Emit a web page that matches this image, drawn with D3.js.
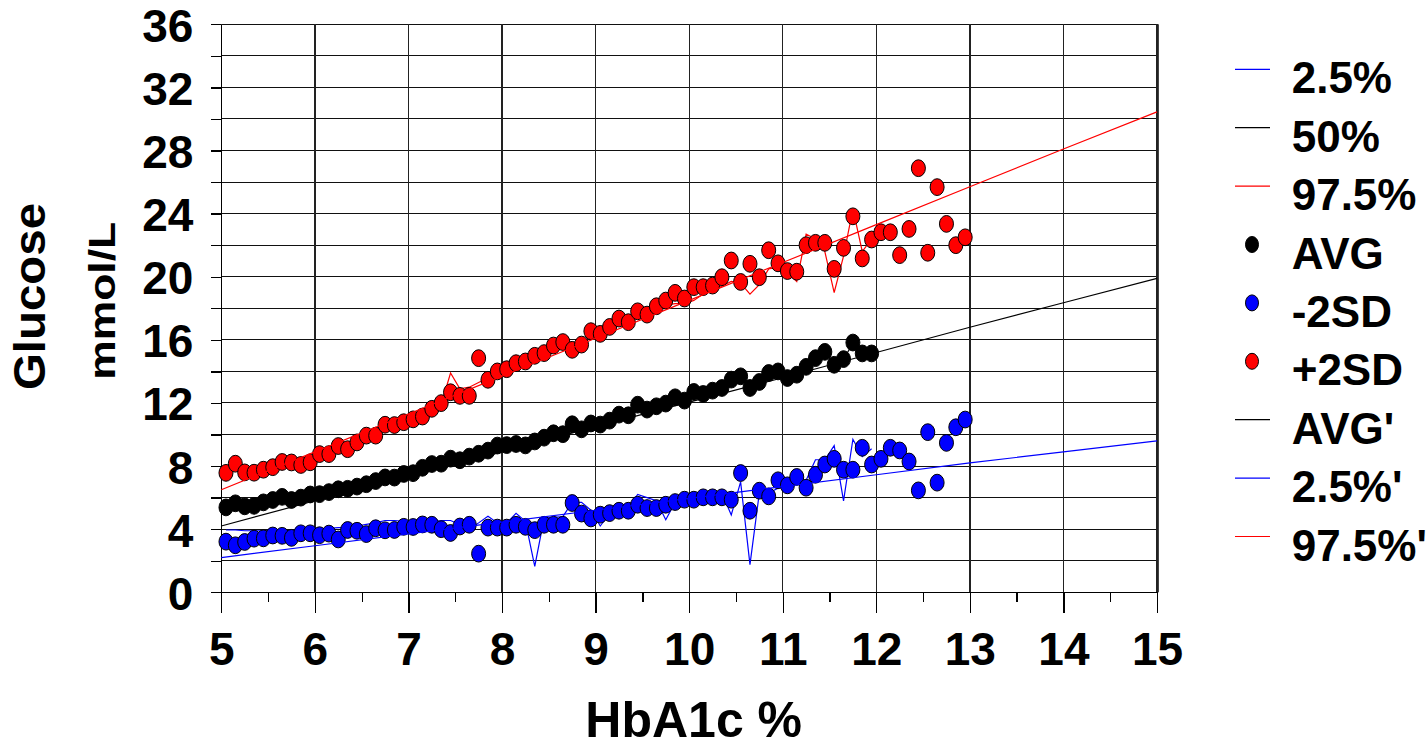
<!DOCTYPE html>
<html>
<head>
<meta charset="utf-8">
<script src="https://cdn.jsdelivr.net/npm/d3@7"></script>
<style>
  html, body { margin: 0; padding: 0; background: #fff; }
  svg { display: block; }
  text { font-family: "Liberation Sans", Arial, sans-serif; font-weight: bold; fill: #000; }
</style>
</head>
<body>
<svg id="chart" width="1427" height="748"></svg>
<script>
// HbA1c bin midpoints (%)
const hba1c = [
  5.05, 5.15, 5.25, 5.35, 5.45, 5.55, 5.65, 5.75, 5.85, 5.95,
  6.05, 6.15, 6.25, 6.35, 6.45, 6.55, 6.65, 6.75, 6.85, 6.95,
  7.05, 7.15, 7.25, 7.35, 7.45, 7.55, 7.65, 7.75, 7.85, 7.95,
  8.05, 8.15, 8.25, 8.35, 8.45, 8.55, 8.65, 8.75, 8.85, 8.95,
  9.05, 9.15, 9.25, 9.35, 9.45, 9.55, 9.65, 9.75, 9.85, 9.95,
  10.05, 10.15, 10.25, 10.35, 10.45, 10.55, 10.65, 10.75, 10.85, 10.95,
  11.05, 11.15, 11.25, 11.35, 11.45, 11.55, 11.65, 11.75, 11.85, 11.95,
  12.05, 12.15, 12.25, 12.35, 12.45, 12.55, 12.65, 12.75, 12.85, 12.95
];

// Mean glucose per bin (mmol/L), bins up to 11.95
const avg = [
  5.38, 5.64, 5.45, 5.48, 5.70, 5.85, 6.05, 5.85, 6.00, 6.20,
  6.22, 6.35, 6.53, 6.56, 6.70, 6.85, 7.05, 7.28, 7.27, 7.50,
  7.55, 7.89, 8.13, 8.15, 8.47, 8.37, 8.60, 8.78, 8.98, 9.30,
  9.33, 9.40, 9.31, 9.56, 9.80, 10.08, 10.02, 10.65, 10.33, 10.70,
  10.63, 10.88, 11.26, 11.22, 11.89, 11.58, 11.79, 11.96, 12.36, 12.15,
  12.70, 12.57, 12.78, 12.95, 13.48, 13.69, 12.95, 13.33, 13.90, 14.00,
  13.58, 13.79, 14.29, 14.84, 15.24, 14.42, 14.78, 15.83, 15.14, 15.14
];

// Mean - 2SD per bin
const minus2sd = [
  3.21, 2.98, 3.19, 3.40, 3.42, 3.60, 3.58, 3.45, 3.74, 3.74,
  3.62, 3.72, 3.35, 3.95, 3.90, 3.69, 4.06, 3.93, 3.95, 4.15,
  4.14, 4.30, 4.28, 4.00, 3.76, 4.17, 4.28, 2.45, 4.10, 4.10,
  4.10, 4.28, 4.15, 3.94, 4.28, 4.28, 4.28, 5.66, 4.99, 4.68,
  4.92, 5.02, 5.17, 5.17, 5.55, 5.34, 5.34, 5.55, 5.72, 5.87,
  5.87, 6.02, 6.02, 6.02, 5.87, 7.56, 5.17, 6.44, 6.08, 7.10,
  6.78, 7.31, 6.63, 7.45, 8.10, 8.46, 7.77, 7.77, 9.16, 8.10,
  8.46, 9.16, 8.99, 8.29, 6.46, 10.15, 6.95, 9.47, 10.46, 10.95
];

// Mean + 2SD per bin
const plus2sd = [
  7.57, 8.15, 7.60, 7.58, 7.77, 7.93, 8.26, 8.23, 8.07, 8.24,
  8.76, 8.76, 9.27, 9.07, 9.50, 9.93, 9.93, 10.62, 10.60, 10.78,
  10.96, 11.14, 11.63, 11.99, 12.68, 12.45, 12.45, 14.84, 13.47, 14.00,
  14.14, 14.52, 14.63, 14.99, 15.16, 15.64, 15.86, 15.37, 15.70, 16.55,
  16.38, 16.82, 17.35, 17.12, 17.81, 17.60, 18.13, 18.49, 18.98, 18.62,
  19.34, 19.34, 19.44, 19.97, 21.03, 19.67, 20.82, 19.97, 21.68, 20.85,
  20.36, 20.32, 22.00, 22.15, 22.15, 20.50, 21.83, 23.83, 21.16, 22.36,
  22.82, 22.82, 21.37, 23.03, 26.88, 21.52, 25.68, 23.35, 22.00, 22.50
];

// Percentiles per bin (bins up to 11.95)
const p2_5 = [
  3.95, 3.95, 3.90, 3.90, 3.90, 3.90, 3.92, 3.90, 3.95, 4.00,
  4.00, 4.05, 4.10, 4.10, 4.20, 4.30, 4.40, 4.55, 4.55, 4.50,
  4.50, 4.45, 4.45, 4.55, 4.55, 4.30, 4.00, 4.40, 4.82, 4.40,
  4.40, 5.00, 4.50, 1.65, 4.70, 4.75, 4.80, 5.70, 5.70, 5.20,
  4.20, 5.00, 5.30, 5.40, 6.20, 6.00, 5.80, 4.60, 5.70, 5.90,
  5.90, 6.00, 6.00, 6.30, 4.90, 7.00, 1.75, 6.30, 6.30, 6.60,
  7.10, 7.00, 7.10, 8.40, 8.40, 9.30, 5.80, 9.70, 8.60, 9.10
];
const p50 = [
  5.30, 5.60, 5.45, 5.50, 5.70, 5.85, 6.00, 5.90, 6.00, 6.20,
  6.25, 6.35, 6.50, 6.55, 6.70, 6.85, 7.05, 7.25, 7.30, 7.50,
  7.55, 7.90, 8.10, 8.15, 8.45, 8.40, 8.60, 8.75, 9.00, 9.30,
  9.30, 9.40, 9.35, 9.55, 9.80, 10.05, 10.00, 10.60, 10.35, 10.70,
  10.65, 10.90, 11.25, 11.25, 11.85, 11.60, 11.80, 11.95, 12.30, 12.20,
  12.65, 12.60, 12.80, 12.95, 13.45, 13.65, 13.00, 13.35, 13.85, 14.00,
  13.60, 13.80, 14.30, 14.80, 15.20, 14.50, 14.80, 15.75, 15.15, 15.10
];
const p97_5 = [
  7.20, 8.30, 7.60, 7.50, 7.70, 7.90, 8.20, 8.30, 8.10, 8.20,
  8.70, 8.80, 9.30, 9.10, 9.50, 9.90, 10.00, 10.80, 10.60, 10.80,
  10.90, 11.10, 11.50, 11.90, 13.90, 12.90, 13.00, 13.30, 13.60, 14.00,
  14.10, 14.40, 14.60, 14.90, 15.10, 15.40, 15.40, 15.30, 15.70, 16.30,
  16.40, 16.70, 17.10, 17.20, 17.60, 17.60, 17.90, 18.20, 18.30, 18.30,
  18.50, 18.90, 19.20, 19.40, 19.70, 19.60, 18.90, 19.50, 20.50, 20.60,
  20.30, 19.70, 22.70, 22.40, 21.60, 19.00, 21.30, 24.30, 21.60, 22.40
];

// Fitted curves over the full HbA1c range
const fitX = [5, 6, 7, 8, 9, 10, 11, 12, 13, 14, 15];
const avgFit = [4.2, 5.8, 7.35, 8.9, 10.5, 12.05, 13.6, 15.2, 16.8, 18.35, 19.9];
const p2_5Fit = [2.2, 2.95, 3.7, 4.45, 5.2, 5.95, 6.7, 7.45, 8.2, 8.9, 9.6];
const p97_5Fit = [6.5, 8.9, 11.3, 13.7, 16.1, 18.5, 20.9, 23.3, 25.7, 28.1, 30.45];

// Axis ticks
const xMajorTicks = [5, 6, 7, 8, 9, 10, 11, 12, 13, 14, 15];
const xMinorTicks = [5.5, 6.5, 7.5, 8.5, 9.5, 10.5, 11.5, 12.5, 13.5, 14.5];
const yTicks = [0, 2, 4, 6, 8, 10, 12, 14, 16, 18, 20, 22, 24, 26, 28, 30, 32, 34, 36];
const yLabelled = [0, 4, 8, 12, 16, 20, 24, 28, 32, 36];

// Legend entries
const legendLabels = ["2.5%", "50%", "97.5%", "AVG", "-2SD", "+2SD", "AVG'", "2.5%'", "97.5%'"];

const svg = d3.select("#chart");
const x = d3.scaleLinear().domain([5, 15]).range([221.3, 1157]);
const y = d3.scaleLinear().domain([0, 36]).range([592.3, 24.3]);

const BLUE = "#0000ff", RED = "#ff0000", BLACK = "#000000";

// Grid
const grid = svg.append("g").attr("shape-rendering", "crispEdges");
grid.selectAll("line.h").data(yTicks).join("line")
  .attr("x1", x(5)).attr("x2", x(15))
  .attr("y1", d => y(d)).attr("y2", d => y(d))
  .attr("stroke", "#111").attr("stroke-width", 1);
grid.selectAll("line.v").data(xMajorTicks).join("line")
  .attr("x1", d => x(d)).attr("x2", d => x(d))
  .attr("y1", y(36)).attr("y2", y(0))
  .attr("stroke", "#222").attr("stroke-width", 1.3);

// Axes
const fs = 46;
const yAxis = svg.append("g")
  .attr("transform", `translate(${x(5)},0)`)
  .call(d3.axisLeft(y).tickValues(yTicks).tickSizeInner(10).tickSizeOuter(0).tickPadding(18)
    .tickFormat(d => yLabelled.includes(d) ? d : ""));
yAxis.selectAll("text").attr("font-size", fs).attr("dy", "0.37em")
  .style("font-family", '"Liberation Sans", Arial, sans-serif').style("font-weight", "bold");

const xAxis = svg.append("g")
  .attr("transform", `translate(0,${y(0)})`)
  .call(d3.axisBottom(x).tickValues(xMajorTicks).tickSizeInner(21).tickSizeOuter(0).tickPadding(19)
    .tickFormat(d3.format("d")));
xAxis.selectAll("text").attr("font-size", fs)
  .style("font-family", '"Liberation Sans", Arial, sans-serif').style("font-weight", "bold");

const xMinor = svg.append("g")
  .attr("transform", `translate(0,${y(0)})`)
  .call(d3.axisBottom(x).tickValues(xMinorTicks).tickSizeInner(10).tickSizeOuter(0).tickFormat(""));

[yAxis, xAxis, xMinor].forEach(g => {
  g.select(".domain").attr("stroke", BLACK).attr("stroke-width", 1.3).attr("shape-rendering", "crispEdges");
  g.selectAll(".tick line").attr("stroke", BLACK).attr("stroke-width", 1.3).attr("shape-rendering", "crispEdges");
});

// Plot frame right edge
svg.append("line").attr("x1", x(15) + 1.5).attr("x2", x(15) + 1.5)
  .attr("y1", y(36)).attr("y2", y(0)).attr("stroke", "#444").attr("stroke-width", 1);

// Series drawing helpers
const plot = svg.append("g");
function drawLine(xs, ys, color) {
  const pts = xs.map((v, i) => [v, ys[i]]);
  plot.append("path")
    .datum(pts)
    .attr("fill", "none")
    .attr("stroke", color)
    .attr("stroke-width", 1.2)
    .attr("stroke-linejoin", "miter")
    .attr("d", d3.line().x(d => x(d[0])).y(d => y(d[1])));
}
function drawDots(xs, ys, color) {
  const pts = ys.map((v, i) => [xs[i], v]);
  plot.append("g").selectAll("ellipse").data(pts).join("ellipse")
    .attr("cx", d => x(d[0])).attr("cy", d => y(d[1]))
    .attr("rx", 7).attr("ry", 8.4)
    .attr("fill", color).attr("stroke", BLACK).attr("stroke-width", 1);
}

const binX = hba1c.slice(0, p50.length);
drawLine(binX, p2_5, BLUE);
drawLine(binX, p50, BLACK);
drawLine(binX, p97_5, RED);
drawDots(hba1c, avg, BLACK);
drawDots(hba1c, minus2sd, BLUE);
drawDots(hba1c, plus2sd, RED);
drawLine(fitX, avgFit, BLACK);
drawLine(fitX, p2_5Fit, BLUE);
drawLine(fitX, p97_5Fit, RED);

// Axis titles
svg.append("text")
  .attr("x", 693.7).attr("y", 737)
  .attr("text-anchor", "middle").attr("font-size", 50)
  .text("HbA1c %");
svg.append("text")
  .attr("transform", "translate(45,296.5) rotate(-90)")
  .attr("text-anchor", "middle").attr("font-size", 44)
  .attr("textLength", 187).attr("lengthAdjust", "spacingAndGlyphs")
  .text("Glucose");
svg.append("text")
  .attr("transform", "translate(115,300.8) rotate(-90)")
  .attr("text-anchor", "middle").attr("font-size", 36)
  .attr("textLength", 158).attr("lengthAdjust", "spacingAndGlyphs")
  .text("mmol/L");

// Legend
const legendKinds = ["line", "line", "line", "dot", "dot", "dot", "line", "line", "line"];
const legendColors = [BLUE, BLACK, RED, BLACK, BLUE, RED, BLACK, BLUE, RED];
const legend = svg.append("g");
const rowY = i => 69.3 + i * 58.4;
legendLabels.forEach((label, i) => {
  const cy = rowY(i);
  if (legendKinds[i] === "line") {
    legend.append("line")
      .attr("x1", 1235).attr("x2", 1270).attr("y1", cy).attr("y2", cy)
      .attr("stroke", legendColors[i]).attr("stroke-width", 1.2);
  } else {
    legend.append("ellipse")
      .attr("cx", 1252).attr("cy", cy).attr("rx", 6.5).attr("ry", 8)
      .attr("fill", legendColors[i]).attr("stroke", BLACK).attr("stroke-width", 1);
  }
  legend.append("text")
    .attr("x", 1291.7).attr("y", cy + 24)
    .attr("font-size", 44)
    .text(label);
});
</script>
</body>
</html>
